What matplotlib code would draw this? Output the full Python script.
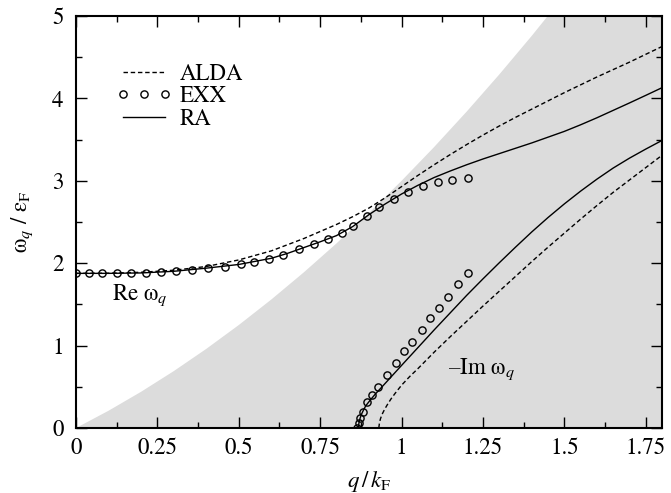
import numpy as np
import matplotlib
matplotlib.use("Agg")
import matplotlib.pyplot as plt
from matplotlib.ticker import MultipleLocator, FixedFormatter, FixedLocator

plt.rcParams['font.family'] = ['STIXGeneral', 'DejaVu Serif']
plt.rcParams['mathtext.fontset'] = 'stix'

# particle-hole continuum upper edge
cont_q = [0.0, 0.1, 0.2, 0.3, 0.4, 0.5, 0.6, 0.7, 0.8, 0.9, 1.0, 1.1, 1.2, 1.3, 1.4, 1.5, 1.6, 1.7, 1.8]
cont_w = [0.0, 0.21, 0.44, 0.69, 0.96, 1.25, 1.56, 1.89, 2.24, 2.61, 3.0, 3.41, 3.84, 4.29, 4.76, 5.25, 5.76, 6.29, 6.84]

# ALDA
alda_re_q = [0.0, 0.1, 0.2, 0.3, 0.4, 0.5, 0.6, 0.7, 0.8, 0.85, 0.9, 0.95, 1.0, 1.05, 1.1, 1.15, 1.2, 1.25, 1.3,
             1.35, 1.4, 1.45, 1.5, 1.55, 1.6, 1.65, 1.7, 1.75, 1.8]
alda_re_w = [1.877, 1.879, 1.89, 1.915, 1.96, 2.04, 2.15, 2.30, 2.47, 2.565, 2.67, 2.795, 2.93, 3.065, 3.195, 3.32, 3.44,
             3.555, 3.665, 3.77, 3.87, 3.97, 4.07, 4.165, 4.26, 4.35, 4.44, 4.535, 4.63]
alda_im_q = [0.93, 0.932, 0.935, 0.94, 0.947, 0.955, 0.967, 0.98, 1.0, 1.025, 1.05, 1.075, 1.1, 1.15, 1.2, 1.25,
             1.3, 1.35, 1.4, 1.45, 1.5, 1.55, 1.6, 1.65, 1.7, 1.75, 1.8]
alda_im_w = [0.0, 0.06, 0.11, 0.165, 0.22, 0.275, 0.35, 0.42, 0.52, 0.625, 0.72, 0.82, 0.92, 1.11, 1.295, 1.48,
             1.66, 1.84, 2.02, 2.195, 2.365, 2.535, 2.70, 2.86, 3.01, 3.16, 3.31]

# RA
ra_re_q = [0.0, 0.1, 0.2, 0.3, 0.4, 0.5, 0.6, 0.65, 0.7, 0.75, 0.8, 0.85, 0.9, 0.95, 1.0, 1.05, 1.1, 1.15, 1.2,
           1.25, 1.3, 1.35, 1.4, 1.45, 1.5, 1.55, 1.6, 1.65, 1.7, 1.75, 1.8]
ra_re_w = [1.877, 1.877, 1.882, 1.902, 1.94, 1.985, 2.06, 2.12, 2.19, 2.26, 2.335, 2.445, 2.59, 2.72, 2.84, 2.945,
           3.04, 3.12, 3.195, 3.265, 3.33, 3.395, 3.46, 3.53, 3.60, 3.68, 3.765, 3.855, 3.945, 4.037, 4.13]
ra_im_q = [0.867, 0.869, 0.872, 0.876, 0.882, 0.89, 0.903, 0.92, 0.94, 0.97, 1.0, 1.05, 1.1, 1.15, 1.2, 1.25,
           1.3, 1.35, 1.4, 1.45, 1.5, 1.55, 1.6, 1.65, 1.7, 1.75, 1.8]
ra_im_w = [0.0, 0.06, 0.11, 0.16, 0.21, 0.27, 0.335, 0.415, 0.50, 0.63, 0.76, 0.975, 1.19, 1.40, 1.61, 1.81,
           2.005, 2.195, 2.38, 2.555, 2.72, 2.875, 3.02, 3.155, 3.275, 3.385, 3.49]

# EXX points
exx_re_q = [0.0, 0.04, 0.079, 0.125, 0.169, 0.215, 0.261, 0.306, 0.357, 0.405, 0.457, 0.506, 0.548, 0.593,
            0.637, 0.685, 0.732, 0.773, 0.817, 0.852, 0.895, 0.932, 0.977, 1.019, 1.067, 1.112, 1.156, 1.203]
exx_re_w = [1.877, 1.877, 1.877, 1.877, 1.877, 1.885, 1.893, 1.905, 1.921, 1.942, 1.958, 1.987, 2.011, 2.051,
            2.10, 2.169, 2.229, 2.290, 2.363, 2.451, 2.573, 2.678, 2.779, 2.860, 2.937, 2.982, 3.010, 3.030]
exx_im_q = [0.864, 0.868, 0.873, 0.881, 0.894, 0.909, 0.929, 0.954, 0.983, 1.008, 1.031, 1.062, 1.087, 1.116,
            1.143, 1.174, 1.205]
exx_im_w = [0.0, 0.06, 0.12, 0.20, 0.31, 0.40, 0.50, 0.643, 0.795, 0.93, 1.05, 1.195, 1.33, 1.46, 1.595,
            1.746, 1.877]

xticks = [0, 0.25, 0.5, 0.75, 1.0, 1.25, 1.5, 1.75]
xticklabels = ['0', '0.25', '0.5', '0.75', '1', '1.25', '1.5', '1.75']
yticks = [0, 1, 2, 3, 4, 5]
yticklabels = ['0', '1', '2', '3', '4', '5']

FS = 16.5

fig = plt.figure(figsize=(6.71, 4.93), dpi=100)
ax = fig.add_axes([0.1133, 0.1318, 0.8733, 0.8357])

ax.fill_between(cont_q, 0, cont_w, color='#dcdcdc', lw=0, zorder=0)

lw = 1.0
dash = (0, (3.2, 2.0))
ax.plot(alda_re_q, alda_re_w, color='k', lw=lw, ls=dash, label='ALDA')
ax.plot(alda_im_q, alda_im_w, color='k', lw=lw, ls=dash)
ax.plot(exx_re_q, exx_re_w, ls='none', marker='o', ms=5.2, mfc='none', mec='k', mew=1.0, label='EXX')
ax.plot(exx_im_q, exx_im_w, ls='none', marker='o', ms=5.2, mfc='none', mec='k', mew=1.0)
ax.plot(ra_re_q, ra_re_w, color='k', lw=lw, label='RA')
ax.plot(ra_im_q, ra_im_w, color='k', lw=lw)

ax.set_xlim(0, 1.8)
ax.set_ylim(0, 5)
ax.xaxis.set_major_locator(FixedLocator(xticks))
ax.xaxis.set_major_formatter(FixedFormatter(xticklabels))
ax.xaxis.set_minor_locator(MultipleLocator(0.125))
ax.yaxis.set_major_locator(FixedLocator(yticks))
ax.yaxis.set_major_formatter(FixedFormatter(yticklabels))
ax.yaxis.set_minor_locator(MultipleLocator(0.5))
ax.tick_params(which='both', direction='in', top=True, right=True, width=1.0, labelsize=FS)
ax.tick_params(which='major', length=8)
ax.tick_params(axis='x', which='major', pad=7)
ax.tick_params(axis='y', which='major', pad=9)
ax.tick_params(which='minor', length=4)
for s in ax.spines.values():
    s.set_linewidth(1.5)

ax.set_xlabel('$q\\,/\\,k_{\\mathrm{F}}$', fontsize=FS, labelpad=7)
ax.set_ylabel('ω$_q$ / ε$_{\\mathrm{F}}$', fontsize=FS, labelpad=12)

ax.text(0.109, 1.55, 'Re ω$_q$', fontsize=FS)
ax.text(1.142, 0.66, '–Im ω$_q$', fontsize=FS)

leg = ax.legend(loc='upper left', bbox_to_anchor=(0.068, 0.885), frameon=False, fontsize=FS,
                handlelength=2.45, handletextpad=0.35, labelspacing=0.05, numpoints=3,
                borderpad=0, borderaxespad=0)

fig.savefig('out.png', dpi=100)
